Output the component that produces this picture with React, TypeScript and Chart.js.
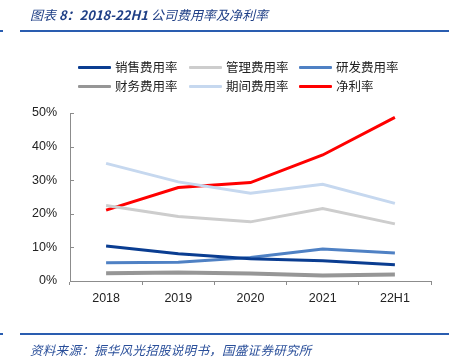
import React, { useEffect, useRef } from "react";
import { Chart, registerables } from "chart.js";

Chart.register(...registerables);

const categories = ["2018", "2019", "2020", "2021", "22H1"];
const yTicks = [0, 10, 20, 30, 40, 50];

const seriesNames = ["销售费用率", "管理费用率", "研发费用率", "财务费用率", "期间费用率", "净利率"];
const salesRate = [10.4, 8.1, 6.6, 6.0, 4.8];
const mgmtRate = [22.5, 19.2, 17.6, 21.6, 17.0];
const rdRate = [5.4, 5.6, 7.0, 9.5, 8.3];
const finRate = [2.3, 2.5, 2.2, 1.6, 1.9];
const periodRate = [35.0, 29.5, 26.1, 28.8, 23.1];
const netRate = [21.1, 27.8, 29.3, 37.5, 48.7];

const seriesValues = [salesRate, mgmtRate, rdRate, finRate, periodRate, netRate];
const seriesColors = ["#0a3d91", "#cdcdcd", "#4f81c4", "#969696", "#c6d8ef", "#ff0000"];
const seriesWidths = [3, 3, 3, 4, 3, 3];
// draw order: back to front
const drawOrder = [3, 0, 2, 1, 4, 5];

const TITLE_A = "图表 ";
const TITLE_B = "8：2018-22H1 ";
const TITLE_C = "公司费用率及净利率";
const SOURCE = "资料来源：振华风光招股说明书，国盛证券研究所";

const innerTicks = {
  id: "innerTicks",
  afterDraw(chart: any) {
    const y = chart.scales.y;
    const ctx = chart.ctx;
    ctx.save();
    ctx.strokeStyle = "#8c8c8c";
    ctx.lineWidth = 1;
    for (const t of y.ticks) {
      const py = Math.round(y.getPixelForValue(t.value)) + 0.5;
      ctx.beginPath();
      ctx.moveTo(chart.chartArea.left, py);
      ctx.lineTo(chart.chartArea.left + 4, py);
      ctx.stroke();
    }
    ctx.restore();
  },
};

export default function App() {
  const ref = useRef<HTMLCanvasElement>(null);

  useEffect(() => {
    const datasets = drawOrder.map((i) => ({
      label: seriesNames[i],
      data: seriesValues[i],
      borderColor: seriesColors[i],
      backgroundColor: seriesColors[i],
      borderWidth: seriesWidths[i],
      pointRadius: 0,
      tension: 0,
      fill: false,
    }));
    const chart = new Chart(ref.current!, {
      type: "line",
      data: { labels: categories, datasets },
      plugins: [innerTicks],
      options: {
        responsive: false,
        animation: false,
        layout: { padding: { top: 113, right: 18, left: 0, bottom: 0 } },
        plugins: { legend: { display: false }, tooltip: { enabled: false } },
        scales: {
          x: {
            offset: true,
            afterFit: (s: any) => {
              s.height = 81;
            },
            grid: {
              offset: true,
              drawOnChartArea: false,
              drawTicks: true,
              tickLength: 4,
              color: "#8c8c8c",
            },
            border: { color: "#8c8c8c", width: 1 },
            ticks: {
              padding: 6,
              color: "#222",
              font: { family: "'Liberation Sans', Arial, sans-serif", size: 12.5 },
            },
          },
          y: {
            min: 0,
            max: 50,
            afterFit: (s: any) => {
              s.width = 70;
            },
            afterBuildTicks: (s: any) => {
              s.ticks = yTicks.map((v) => ({ value: v }));
            },
            grid: { drawOnChartArea: false, drawTicks: false, color: "#8c8c8c" },
            border: { color: "#8c8c8c", width: 1 },
            ticks: {
              padding: 13,
              color: "#222",
              font: { family: "'Liberation Sans', Arial, sans-serif", size: 12.5 },
              callback: (v: any) => v + "%",
            },
          },
        },
      },
    });
    return () => chart.destroy();
  }, []);

  const legendCols = [78, 189, 299];
  const legendRows = [67, 86];

  return (
    <div
      style={{
        position: "fixed",
        left: 0,
        top: 0,
        width: 449,
        height: 362,
        background: "#fff",
        overflow: "hidden",
        fontFamily: "'Noto Sans CJK SC', sans-serif",
      }}
    >
      <canvas ref={ref} width={449} height={362} style={{ position: "absolute", left: 0, top: 0 }} />
      <div
        style={{
          position: "absolute",
          left: 30,
          top: 6,
          fontSize: 13,
          fontStyle: "italic",
          color: "#1f3f86",
          whiteSpace: "nowrap",
          lineHeight: "18px",
        }}
      >
        <span>{TITLE_A}</span>
        <span style={{ fontWeight: "bold" }}>{TITLE_B}</span>
        <span>{TITLE_C}</span>
      </div>
      <div style={{ position: "absolute", left: 0, top: 30, width: 3, height: 2, background: "#2a5db0" }} />
      <div style={{ position: "absolute", left: 20, top: 30, width: 429, height: 2, background: "#2a5db0" }} />
      {seriesNames.map((name, i) => (
        <div
          key={name}
          style={{
            position: "absolute",
            left: legendCols[i % 3],
            top: legendRows[Math.floor(i / 3)] - 9,
            height: 18,
            display: "flex",
            alignItems: "center",
            whiteSpace: "nowrap",
          }}
        >
          <div style={{ width: 33, height: 3, background: seriesColors[i], borderRadius: 1 }} />
          <span style={{ marginLeft: 4, fontSize: 12.5, color: "#222", lineHeight: "18px" }}>{name}</span>
        </div>
      ))}
      <div style={{ position: "absolute", left: 20, top: 333, width: 429, height: 2, background: "#2a5db0" }} />
      <div style={{ position: "absolute", left: 0, top: 333, width: 3, height: 2, background: "#2a5db0" }} />
      <div
        style={{
          position: "absolute",
          left: 30,
          top: 341,
          fontSize: 12.5,
          fontStyle: "italic",
          color: "#2a4f9a",
          whiteSpace: "nowrap",
          lineHeight: "18px",
          letterSpacing: 0.3,
        }}
      >
        {SOURCE}
      </div>
    </div>
  );
}
